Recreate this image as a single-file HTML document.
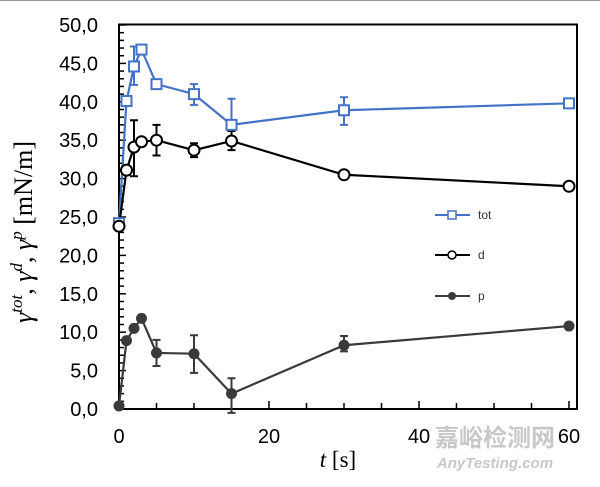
<!DOCTYPE html>
<html><head><meta charset="utf-8"><style>
body{margin:0;background:#fff;width:600px;height:482px;overflow:hidden}
</style></head><body>
<svg width="600" height="482" xmlns="http://www.w3.org/2000/svg" font-family="Liberation Sans, sans-serif">
<rect x="0" y="0" width="600" height="482" fill="#fff"/>
<line x1="0" y1="0.5" x2="600" y2="0.5" stroke="#999" stroke-width="1"/>
<g id="plot"></g>
</svg>
<script>
const X=t=>119+7.5*t, Y=v=>409-7.68*v;
let s='';
for(let v=0;v<=50;v++){s+=`<line x1="119" x2="${v%5==0?126:124}" y1="${Y(v)}" y2="${Y(v)}" stroke="#000" stroke-width="1.5"/>`;}
for(let t=5;t<=60;t+=5){s+=`<line x1="${X(t)}" x2="${X(t)}" y1="409" y2="${t%20==0?401:403}" stroke="#000" stroke-width="1.5"/>`;}
s+=`<rect x="119" y="24.5" width="458" height="384.5" fill="none" stroke="#000" stroke-width="2"/>`;
for(let v=0;v<=50;v+=5){s+=`<text x="98" y="${Y(v)+7}" font-size="20" text-anchor="end">${v.toFixed(1).replace('.',',')}</text>`;}
[[0,'0'],[20,'20'],[40,'40'],[60,'60']].forEach(([t,l])=>s+=`<text x="${X(t)}" y="443" font-size="20" text-anchor="middle">${l}</text>`);
const T=[0,1,2,3,5,10,15,30,60];
const tot=[24.2,40.1,44.6,46.8,42.3,41,37,38.9,39.8];
const d=[23.8,31.1,34.1,34.8,35,33.7,34.9,30.5,29];
const p=[0.4,8.9,10.5,11.8,7.3,7.2,2,8.3,10.8];
function err(t,lo,hi,c){s+=`<path d="M${X(t)} ${Y(lo)}V${Y(hi)}M${X(t)-4} ${Y(lo)}h8M${X(t)-4} ${Y(hi)}h8" stroke="${c}" stroke-width="2" fill="none"/>`;}
err(2,42.2,47.2,'#4472c4');err(10,39.6,42.3,'#4472c4');err(15,37,40.4,'#4472c4');err(30,37,40.6,'#4472c4');
err(2,30.3,37.6,'#000');err(5,33,37,'#000');err(10,32.8,34.6,'#000');err(15,33.7,36.2,'#000');
err(5,5.6,9,'#3a3a3a');err(10,4.7,9.6,'#3a3a3a');err(15,-0.5,4,'#3a3a3a');err(30,7.5,9.5,'#3a3a3a');
function line(a,c){s+=`<polyline points="${T.map((t,i)=>X(t)+','+Y(a[i])).join(' ')}" fill="none" stroke="${c}" stroke-width="2.2"/>`;}
line(tot,'#4472c4');line(d,'#000');line(p,'#3a3a3a');
T.forEach((t,i)=>{
 s+=`<rect x="${X(t)-5}" y="${Y(tot[i])-5}" width="10" height="10" fill="#fff" stroke="#4472c4" stroke-width="2"/>`;
 s+=`<circle cx="${X(t)}" cy="${Y(d[i])}" r="5.5" fill="#fff" stroke="#000" stroke-width="2"/>`;
 s+=`<circle cx="${X(t)}" cy="${Y(p[i])}" r="5.5" fill="#3a3a3a"/>`;
});
s+=`<line x1="435" x2="470" y1="215" y2="215" stroke="#4472c4" stroke-width="2"/><rect x="448" y="211" width="8" height="8" fill="#fff" stroke="#4472c4" stroke-width="1.5"/><text x="478" y="219" font-size="12" fill="#333">tot</text>`;
s+=`<line x1="435" x2="470" y1="255" y2="255" stroke="#000" stroke-width="2"/><circle cx="452" cy="255" r="4" fill="#fff" stroke="#000" stroke-width="1.5"/><text x="478" y="259" font-size="12" fill="#333">d</text>`;
s+=`<line x1="435" x2="470" y1="296" y2="296" stroke="#3a3a3a" stroke-width="2"/><circle cx="452" cy="296" r="4" fill="#3a3a3a"/><text x="478" y="300" font-size="12" fill="#333">p</text>`;
s+=`<text x="338" y="467" font-size="23" text-anchor="middle" font-family="Liberation Serif, serif"><tspan font-style="italic">t</tspan> [s]</text>`;
s+=`<text transform="translate(32,232) rotate(-90)" font-size="26" text-anchor="middle" font-family="Liberation Serif, serif"><tspan font-style="italic">γ</tspan><tspan font-style="italic" font-size="17" dy="-10">tot</tspan><tspan dy="10">, </tspan><tspan font-style="italic">γ</tspan><tspan font-style="italic" font-size="17" dy="-10">d</tspan><tspan dy="10">, </tspan><tspan font-style="italic">γ</tspan><tspan font-style="italic" font-size="17" dy="-10">p</tspan><tspan dy="10"> [mN/m]</tspan></text>`;
s+=`<text x="495" y="446" font-size="24" fill="#c8c8c8" text-anchor="middle" font-family="Noto Sans CJK SC, sans-serif" font-weight="bold">嘉峪检测网</text>`;
s+=`<text x="495" y="468" font-size="15" fill="#c8c8c8" text-anchor="middle" font-style="italic" font-weight="bold">AnyTesting.com</text>`;
document.getElementById('plot').innerHTML=s;
</script>
</body></html>
